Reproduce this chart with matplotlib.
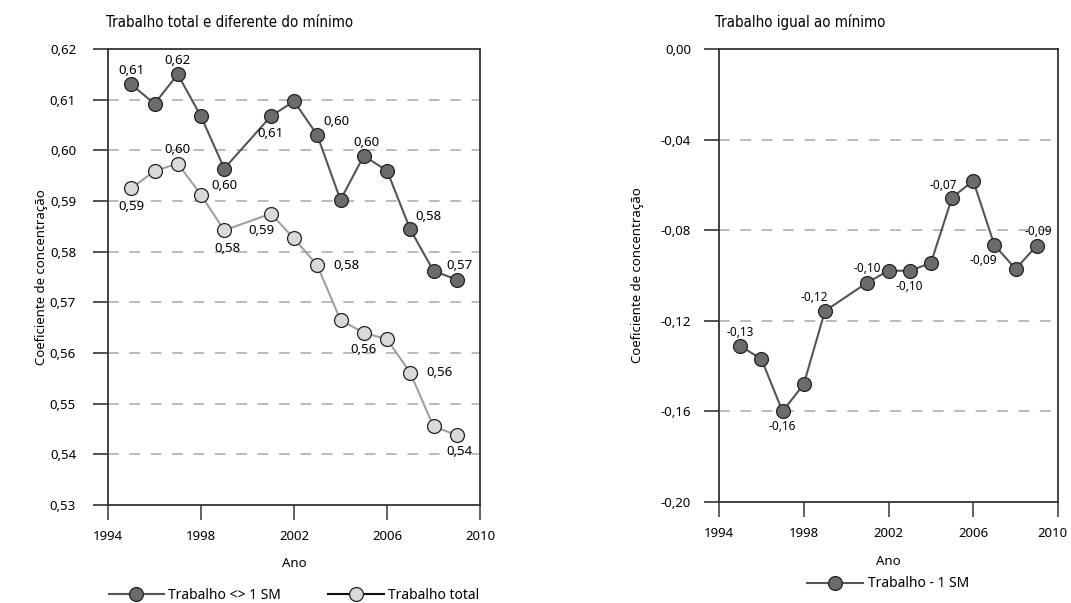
import matplotlib.pyplot as plt
from matplotlib.lines import Line2D
from matplotlib.transforms import ScaledTranslation
import numpy as np

plt.rcParams['font.family'] = ['Noto Sans', 'DejaVu Sans']

anos = [1995, 1996, 1997, 1998, 1999, 2001, 2002, 2003, 2004, 2005, 2006, 2007, 2008, 2009]
dif_minimo = [0.6130, 0.6092, 0.6150, 0.6067, 0.5964, 0.6067, 0.6097, 0.6030,
              0.5902, 0.5989, 0.5960, 0.5844, 0.5762, 0.5745]
total = [0.5925, 0.5959, 0.5974, 0.5912, 0.5842, 0.5875, 0.5826, 0.5773,
         0.5665, 0.5640, 0.5627, 0.5561, 0.5455, 0.5438]
igual_minimo = [-0.1311, -0.1369, -0.1600, -0.1480, -0.1157, -0.1031, -0.0979, -0.0979,
                -0.0945, -0.0656, -0.0582, -0.0866, -0.0971, -0.0868]

# rótulos: (ano, texto, deslocamento em pontos)
rot_dif = [(1995, '0,61', (0, 10)), (1997, '0,62', (0, 10)), (1999, '0,60', (0, -12)),
           (2001, '0,61', (0, -12)), (2003, '0,60', (14, 10)), (2005, '0,60', (2, 10)),
           (2007, '0,58', (13, 9)), (2009, '0,57', (2, 10))]
rot_total = [(1995, '0,59', (0, -13)), (1997, '0,60', (0, 10)), (1999, '0,58', (2, -13)),
             (2001, '0,59', (-7, -12)), (2003, '0,58', (21, 0)), (2005, '0,56', (0, -12)),
             (2007, '0,56', (21, 0)), (2009, '0,54', (2, -12))]
rot_igual = [(1995, '-0,13', (0, 10)), (1997, '-0,16', (0, -11)), (1999, '-0,12', (-8, 10)),
             (2001, '-0,10', (0, 10)), (2003, '-0,10', (0, -11)), (2005, '-0,07', (-6, 9)),
             (2007, '-0,09', (-8, -11)), (2009, '-0,09', (1, 10))]

escuro = '#6b6b6b'
claro = '#d9d9d9'

fig = plt.figure(figsize=(10.71, 6.03), dpi=100)
ax1 = fig.add_axes([108 / 1071, 1 - 505 / 603, 372 / 1071, 456 / 603])
ax2 = fig.add_axes([719 / 1071, 1 - 502 / 603, 339 / 1071, 453 / 603])


def estilo(ax, yticks, ylim, ypad, ylpad, xlpad):
    ax.set_xlim(1994, 2010)
    ax.set_xticks([1994, 1998, 2002, 2006, 2010])
    ax.set_ylim(*ylim)
    ax.set_yticks(yticks)
    ax.set_yticklabels([('%.2f' % v).replace('.', ',') for v in yticks])
    for v in yticks[1:-1]:
        ax.axhline(v, color='#a8a8a8', lw=1.1, ls=(0, (7, 7)), zorder=0)
    for s in ax.spines.values():
        s.set_color('#333333')
        s.set_linewidth(1.3)
    ax.tick_params(axis='y', length=11, width=1.3, color='#444444', pad=ypad, labelsize=9.5)
    ax.tick_params(axis='x', length=11, width=1.3, color='#555555', pad=7, labelsize=9.5)
    ax.set_xlabel('Ano', fontsize=9.5, labelpad=xlpad)
    ax.set_ylabel('Coeficiente de concentração', fontsize=9.5, labelpad=ylpad)


def rotula(ax, xs, ys, rotulos, tam):
    for ano, txt, off in rotulos:
        i = xs.index(ano)
        ax.annotate(txt, (xs[i], ys[i]), xytext=off, textcoords='offset points',
                    ha='center', va='center', fontsize=tam)


estilo(ax1, [0.53, 0.54, 0.55, 0.56, 0.57, 0.58, 0.59, 0.60, 0.61, 0.62], (0.53, 0.62), 12, 1, 10)
ax1.plot(anos, dif_minimo, color='#555555', lw=1.5, marker='o', ms=10,
         mfc=escuro, mec='#222222', mew=0.9)
ax1.plot(anos, total, color='#a0a0a0', lw=1.5, marker='o', ms=10,
         mfc=claro, mec='#222222', mew=0.9)
rotula(ax1, anos, dif_minimo, rot_dif, 9.5)
rotula(ax1, anos, total, rot_total, 9.5)
ax1.set_title('Trabalho total e diferente do mínimo', loc='left', fontsize=10.8,
              family='DejaVu Sans', fontstretch='condensed', x=-0.005, pad=16)

estilo(ax2, [-0.20, -0.16, -0.12, -0.08, -0.04, 0.00], (-0.20, 0.00), 9, 12, 11)
ax2.set_yticklabels(['-0,20', '-0,16', '-0,12', '-0,08', '-0,04', '0,00'])
ax2.plot(anos, igual_minimo, color='#555555', lw=1.5, marker='o', ms=10,
         mfc=escuro, mec='#222222', mew=0.9)
rotula(ax2, anos, igual_minimo, rot_igual, 8.5)
ax2.set_title('Trabalho igual ao mínimo', loc='left', fontsize=10.8,
              family='DejaVu Sans', fontstretch='condensed', x=-0.012, pad=16)
# último rótulo do eixo x um pouco para a esquerda, como no original
ult = ax2.get_xticklabels()[-1]
ult.set_transform(ult.get_transform() + ScaledTranslation(-4 / 72, 0, fig.dpi_scale_trans))

h1 = Line2D([], [], color='#555555', lw=1.5, marker='o', ms=10, mfc=escuro, mec='#222222', mew=0.9)
h2 = Line2D([], [], color='#111111', lw=1.5, marker='o', ms=10, mfc=claro, mec='#222222', mew=0.9)
h3 = Line2D([], [], color='#555555', lw=1.5, marker='o', ms=10, mfc=escuro, mec='#222222', mew=0.9)
ax1.legend([h1, h2], ['Trabalho <> 1 SM', 'Trabalho total'], loc='center',
           bbox_to_anchor=(0.5, -0.198), ncol=2, frameon=False, fontsize=10,
           handlelength=4, handletextpad=0.3, columnspacing=3.4,
           borderaxespad=0, borderpad=0)
ax2.legend([h3], ['Trabalho - 1 SM'], loc='center',
           bbox_to_anchor=(0.5, -0.181), frameon=False, fontsize=10, handlelength=4,
           handletextpad=0.4, borderaxespad=0, borderpad=0)

fig.savefig('out.png', dpi=100)
